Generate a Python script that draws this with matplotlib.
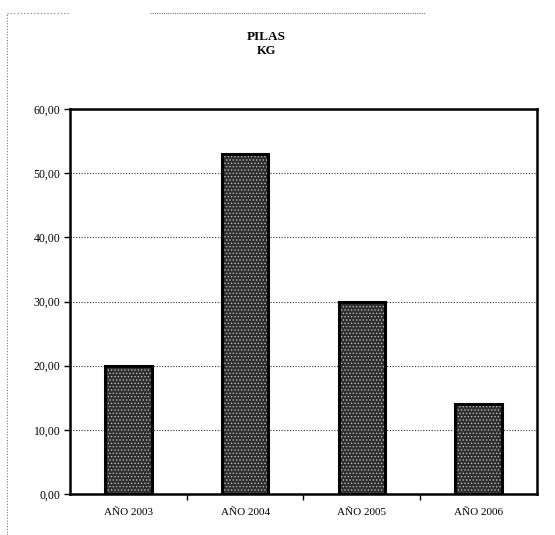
import matplotlib
matplotlib.use("Agg")
import matplotlib.pyplot as plt
from matplotlib.lines import Line2D

categories = ["AÑO 2003", "AÑO 2004", "AÑO 2005", "AÑO 2006"]
values = [20.0, 53.0, 30.0, 14.0]
yticks = [0, 10, 20, 30, 40, 50, 60]
ytick_labels = ["0,00", "10,00", "20,00", "30,00", "40,00", "50,00", "60,00"]
title_main = "PILAS"
title_sub = "KG"

plt.rcParams['font.family'] = ['Liberation Serif', 'DejaVu Serif']
plt.rcParams['hatch.linewidth'] = 0.5

W, H = 555, 535
fig = plt.figure(figsize=(W / 100, H / 100), dpi=100)
ax = fig.add_axes([70 / W, 1 - 494 / H, (537 - 70) / W, (494 - 109) / H])

x = list(range(len(categories)))
ax.bar(x, values, width=0.4, color='#303030', edgecolor='#c8c8c8', hatch='.....',
       linewidth=0, zorder=3)
ax.bar(x, values, width=0.4, fill=False, edgecolor='black', linewidth=2.2, zorder=4)

ax.set_xlim(-0.5, len(categories) - 0.5)
ax.set_ylim(0, 60)
ax.set_yticks(yticks)
ax.set_yticklabels(ytick_labels, fontsize=8.5)
ax.set_xticks(x)
ax.set_xticklabels(categories, fontsize=8)
ax.set_xticks([i + 0.5 for i in range(len(categories) - 1)], minor=True)
ax.tick_params(axis='x', which='major', length=0, pad=10)
ax.tick_params(axis='x', which='minor', length=4, width=1, direction='out')
ax.tick_params(axis='y', length=4, width=1, direction='out', pad=3)

ax.yaxis.grid(True, linestyle=(0, (1, 1.5)), color='#333333', linewidth=0.8, zorder=0)
for s in ax.spines.values():
    s.set_linewidth(1.8)
    s.set_color('black')

fig.text(266 / W, 1 - 37 / H, title_main, ha='center', va='center', fontsize=9.5,
         fontweight='bold')
fig.text(266 / W, 1 - 51 / H, title_sub, ha='center', va='center', fontsize=9,
         fontweight='bold')

# dotted page border remnants
fig.add_artist(Line2D([7 / W, 7 / W], [0, 1 - 13 / H], transform=fig.transFigure,
                      color='#777777', linestyle=(0, (1, 1.5)), linewidth=0.8))
fig.add_artist(Line2D([7 / W, 70 / W], [1 - 13 / H, 1 - 13 / H], transform=fig.transFigure,
                      color='#777777', linestyle=(0, (1, 2)), linewidth=0.8))
fig.add_artist(Line2D([150 / W, 425 / W], [1 - 13 / H, 1 - 13 / H], transform=fig.transFigure,
                      color='#777777', linestyle=(0, (1, 1)), linewidth=0.8))

fig.savefig("out.png", dpi=100)
